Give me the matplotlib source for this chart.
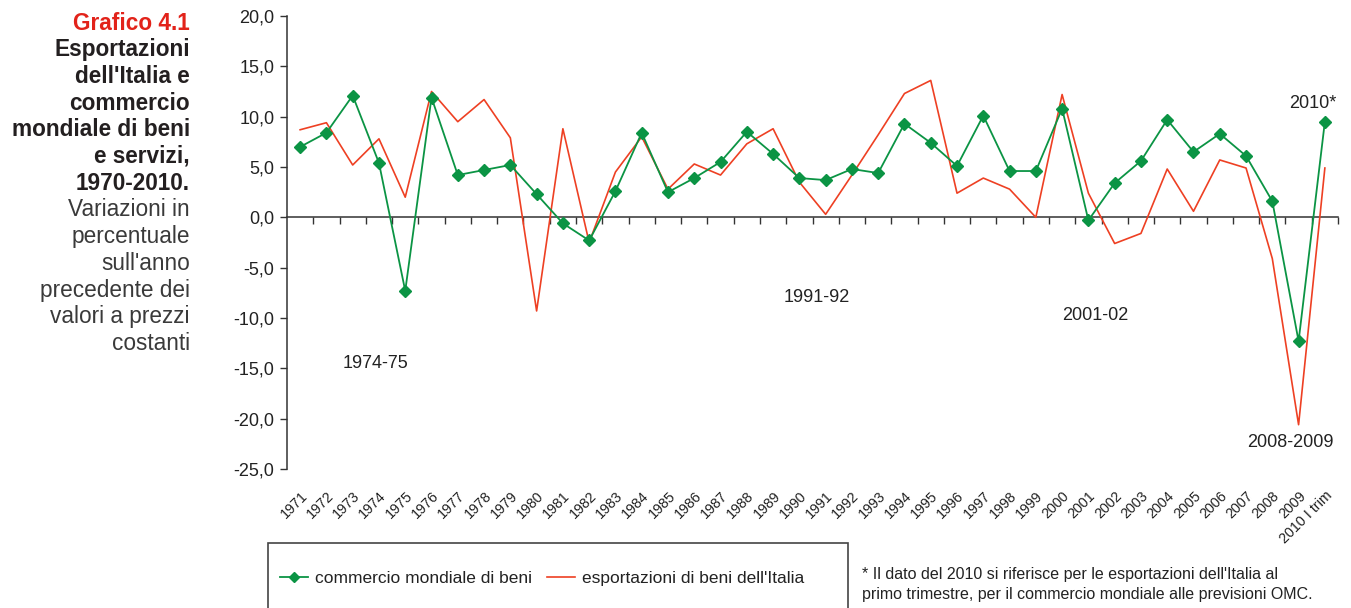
import numpy as np
import matplotlib.pyplot as plt
from matplotlib.lines import Line2D
from matplotlib.patches import Rectangle

plt.rcParams['font.family'] = ['Liberation Sans', 'DejaVu Sans']

# anni (asse x)
years = [str(y) for y in range(1971, 2010)] + ['2010 I trim']
# commercio mondiale di beni (variazioni %)
commercio = [7.0, 8.4, 12.1, 5.4, -7.3, 11.9, 4.2, 4.7, 5.2, 2.3,
             -0.6, -2.3, 2.6, 8.4, 2.5, 3.9, 5.5, 8.5, 6.3, 3.9,
             3.7, 4.8, 4.4, 9.3, 7.4, 5.1, 10.1, 4.6, 4.6, 10.8,
             -0.3, 3.4, 5.6, 9.7, 6.5, 8.3, 6.1, 1.6, -12.3, 9.5]
# esportazioni di beni dell'Italia (variazioni %)
esportazioni = [8.7, 9.4, 5.2, 7.8, 2.0, 12.5, 9.5, 11.7, 7.9, -9.3,
                8.8, -2.5, 4.5, 8.0, 2.8, 5.3, 4.2, 7.3, 8.8, 3.5,
                0.3, 4.2, 8.2, 12.3, 13.6, 2.4, 3.9, 2.8, 0.0, 12.2,
                2.4, -2.6, -1.6, 4.8, 0.6, 5.7, 4.9, -4.1, -20.6, 4.9]
y_ticks = [20, 15, 10, 5, 0, -5, -10, -15, -20, -25]
y_tick_labels = ['20,0', '15,0', '10,0', '5,0', '0,0', '-5,0',
                 '-10,0', '-15,0', '-20,0', '-25,0']

GREEN = '#0b9444'
RED = '#ee4023'
AXC = '#333333'

fig = plt.figure(figsize=(13.51, 6.08), dpi=100)
W, H = 1351, 608
ax = fig.add_axes([287 / W, 1 - 469 / H, (1338 - 287) / W, (469 - 16) / H])

x = np.arange(len(years))
ax.plot(x, esportazioni, color=RED, lw=1.2, zorder=3)
ax.plot(x, commercio, color=GREEN, lw=1.3, marker='D', ms=6, zorder=4)

ax.set_xlim(-0.5, len(years) - 0.5)
ax.set_ylim(-25, 20)
ax.set_yticks(y_ticks, y_tick_labels)
ax.tick_params(axis='y', direction='out', length=5, width=1, color=AXC,
               labelsize=13, labelcolor='#222222', pad=4)

# asse x sullo zero, tacche tra le categorie
ax.spines['bottom'].set_position(('data', 0))
for s in ['top', 'right']:
    ax.spines[s].set_visible(False)
for s in ['left', 'bottom']:
    ax.spines[s].set_color(AXC)
    ax.spines[s].set_linewidth(1.1)
ax.set_xticks(np.arange(0.5, len(years)), [''] * len(years))
ax.tick_params(axis='x', direction='out', length=5, width=1, color=AXC)

# etichette degli anni in basso
sec = ax.secondary_xaxis('bottom')
sec.set_xticks(x, years)
sec.tick_params(length=0, pad=14, labelsize=10.3, labelcolor='#222222')
sec.spines['bottom'].set_visible(False)
plt.setp(sec.get_xticklabels(), rotation=45, ha='right', rotation_mode='anchor')

# etichette dei periodi
ann = dict(fontsize=13, color='#222222', ha='center', va='center')
ax.text(2.85, -14.5, '1974-75', **ann)
ax.text(19.67, -8.0, '1991-92', **ann)
ax.text(30.25, -9.75, '2001-02', **ann)
ax.text(37.67, -22.4, '2008-2009', **ann)
ax.text(38.55, 11.3, '2010*', **ann)

# titolo a sinistra
title_lines = [
    ('Grafico 4.1', 'bold', '#e2231a'),
    ('Esportazioni', 'bold', '#231f20'),
    ("dell'Italia e", 'bold', '#231f20'),
    ('commercio', 'bold', '#231f20'),
    ('mondiale di beni', 'bold', '#231f20'),
    ('e servizi,', 'bold', '#231f20'),
    ('1970-2010.', 'bold', '#231f20'),
    ('Variazioni in', 'normal', '#3a3a3a'),
    ('percentuale', 'normal', '#3a3a3a'),
    ("sull'anno", 'normal', '#3a3a3a'),
    ('precedente dei', 'normal', '#3a3a3a'),
    ('valori a prezzi', 'normal', '#3a3a3a'),
    ('costanti', 'normal', '#3a3a3a'),
]
for i, (txt, wt, col) in enumerate(title_lines):
    fig.text(190 / W, 1 - (23 + i * 26.7) / H, txt, ha='right', va='center',
             fontsize=16.3, fontweight=wt, color=col)

# legenda con riquadro
fig.patches.append(Rectangle((268 / W, -0.05), (848 - 268) / W, 1 - 543 / H + 0.05,
                             transform=fig.transFigure, fill=False,
                             edgecolor='#444444', lw=1.2))
h1 = Line2D([], [], color=GREEN, lw=1.3, marker='D', ms=5)
h2 = Line2D([], [], color=RED, lw=1.2)
fig.legend([h1, h2], ['commercio mondiale di beni', "esportazioni di beni dell'Italia"],
           loc='center left', bbox_to_anchor=(280 / W, 1 - 578 / H), ncol=2,
           frameon=False, fontsize=12.5, borderpad=0, borderaxespad=0,
           handlelength=1.6, handletextpad=0.4, columnspacing=0.9,
           labelcolor='#222222')

fig.text(862 / W, 1 - 575 / H,
         "* Il dato del 2010 si riferisce per le esportazioni dell'Italia al",
         fontsize=11.5, color='#222222', va='center')
fig.text(862 / W, 1 - 595 / H,
         'primo trimestre, per il commercio mondiale alle previsioni OMC.',
         fontsize=11.5, color='#222222', va='center')

fig.savefig('out.png', dpi=100)
